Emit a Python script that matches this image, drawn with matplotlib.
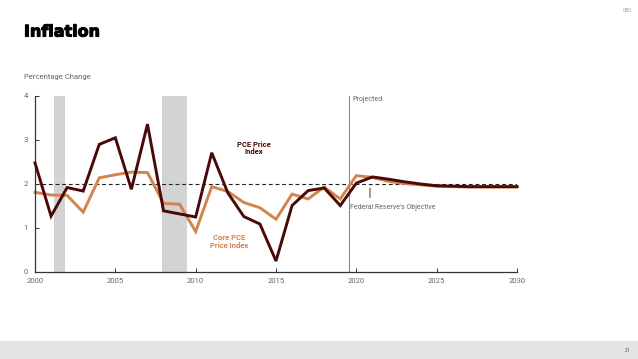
import matplotlib
matplotlib.use("Agg")
import matplotlib.pyplot as plt
from matplotlib.patches import Rectangle
import matplotlib.patheffects as pe

years = list(range(2000, 2031))
pce = [2.48, 1.27, 1.92, 1.84, 2.90, 3.05, 1.88, 3.36, 1.39, 1.32, 1.25, 2.71, 1.80,
       1.26, 1.09, 0.25, 1.51, 1.85, 1.91, 1.51, 2.02, 2.16, 2.11, 2.05, 2.00, 1.96,
       1.95, 1.94, 1.94, 1.94, 1.94]
core = [1.81, 1.75, 1.74, 1.36, 2.14, 2.21, 2.27, 2.26, 1.56, 1.54, 0.92, 1.94, 1.83,
        1.58, 1.46, 1.20, 1.77, 1.66, 1.93, 1.66, 2.19, 2.15, 2.06, 2.01, 1.98, 1.95,
        1.94, 1.93, 1.93, 1.93, 1.93]
recessions = [(2001.17, 2001.87), (2007.92, 2009.45)]
objective = 2.0
projection_start = 2019.55
xticks = [2000, 2005, 2010, 2015, 2020, 2025, 2030]
yticks = [0, 1, 2, 3, 4]

dark = "#4a0808"
orange = "#d4834c"
gray_txt = "#666666"

plt.rcParams['font.family'] = ['Roboto', 'DejaVu Sans']

fig = plt.figure(figsize=(6.38, 3.59), dpi=100)
fig.patch.set_facecolor("white")
ax = fig.add_axes([35/638, 1-272/359, (517-35)/638, (272-96)/359])

for a, b in recessions:
    ax.axvspan(a, b, color="#d3d3d3", lw=0, zorder=0)

ax.axhline(objective, color="#222222", lw=0.8, ls=(0, (3.5, 2.5)), zorder=1)
ax.axvline(projection_start, color="#888888", lw=0.8, zorder=1)

ax.plot(years, core, color=orange, lw=2.1, solid_joinstyle="miter", zorder=2, clip_on=False)
ax.plot(years, pce, color=dark, lw=2.1, solid_joinstyle="miter", zorder=3, clip_on=False)

ax.set_xlim(2000, 2030)
ax.set_ylim(0, 4)
ax.set_xticks(xticks)
ax.set_yticks(yticks)
ax.set_xticklabels([str(x) for x in xticks])
ax.set_yticklabels([str(y) for y in yticks])
for s in ["top", "right"]:
    ax.spines[s].set_visible(False)
for s in ["left", "bottom"]:
    ax.spines[s].set_color("#333333")
    ax.spines[s].set_linewidth(0.9)
ax.tick_params(axis="x", direction="in", length=3, width=0.7, color="#333333",
               labelsize=5.5, labelcolor=gray_txt, pad=4)
ax.tick_params(axis="y", direction="in", length=3, width=0.7, color="#333333",
               labelsize=5.5, labelcolor=gray_txt, pad=5)

ax.text(2013.6, 2.82, "PCE Price\nIndex", color=dark, fontsize=5.5, fontweight="bold",
        ha="center", va="center", linespacing=1.1)
ax.text(2012.1, 0.70, "Core PCE\nPrice Index", color=orange, fontsize=5.5, fontweight="bold",
        ha="center", va="center", linespacing=1.1)
ax.text(projection_start + 0.2, 3.93, "Projected", color=gray_txt, fontsize=5,
        ha="left", va="center")
ax.annotate("", xy=(2020.85, 1.97), xytext=(2020.85, 1.63),
            arrowprops=dict(arrowstyle="-", color="#333333", lw=0.7))
ax.text(projection_start + 0.05, 1.47, "Federal Reserve's Objective", color=gray_txt,
        fontsize=5, ha="left", va="center")

fig.text(24/638, 1-32/359, "Inflation", fontsize=11.5, fontweight="heavy",
         family="DejaVu Sans", color="black", ha="left", va="center",
         path_effects=[pe.withStroke(linewidth=0.8, foreground="black")])
fig.text(24/638, 1-77/359, "Percentage Change", fontsize=5.5, color=gray_txt,
         ha="left", va="center")
fig.text(627/638, 1-10/359, "CBO", fontsize=3.5, color="#999999", ha="center", va="center")

fig.patches.append(Rectangle((0, 0), 1, 18/359, transform=fig.transFigure,
                             facecolor="#e4e4e4", edgecolor="none", zorder=0))
fig.text(628/638, 1-350/359, "21", fontsize=3.5, color="#555555", ha="center", va="center")

fig.savefig("out.png", dpi=100)
